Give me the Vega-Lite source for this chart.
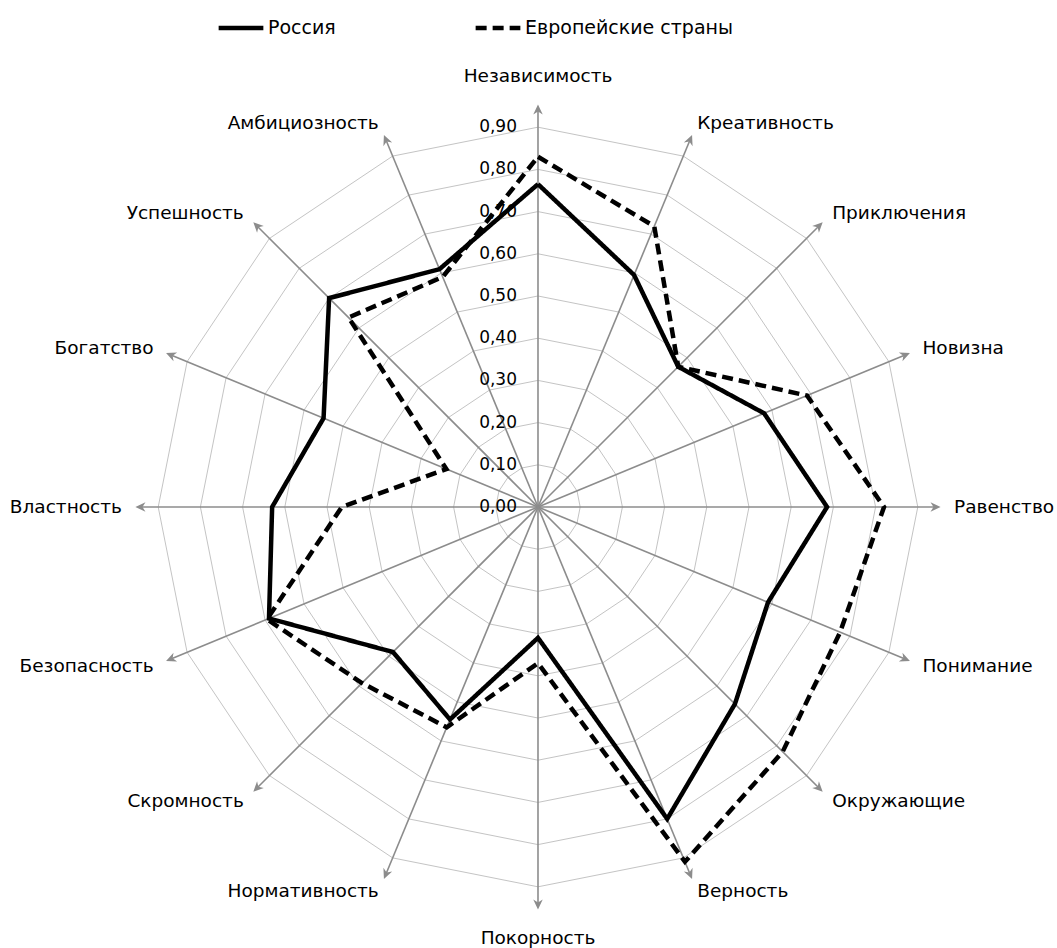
{
  "$schema": "https://vega.github.io/schema/vega-lite/v6.json",
  "width": 1057,
  "height": 948,
  "autosize": {"type": "none"},
  "padding": 0,
  "background": "white",
  "config": {"view": {"stroke": null}, "font": "DejaVu Sans"},
  "datasets": {
    "scores": [
      {"k": 0, "cat": "Независимость", "series": "Россия", "v": 0.765},
      {"k": 1, "cat": "Креативность", "series": "Россия", "v": 0.595},
      {"k": 2, "cat": "Приключения", "series": "Россия", "v": 0.47},
      {"k": 3, "cat": "Новизна", "series": "Россия", "v": 0.58},
      {"k": 4, "cat": "Равенство", "series": "Россия", "v": 0.685},
      {"k": 5, "cat": "Понимание", "series": "Россия", "v": 0.59},
      {"k": 6, "cat": "Окружающие", "series": "Россия", "v": 0.66},
      {"k": 7, "cat": "Верность", "series": "Россия", "v": 0.8},
      {"k": 8, "cat": "Покорность", "series": "Россия", "v": 0.31},
      {"k": 9, "cat": "Нормативность", "series": "Россия", "v": 0.545},
      {"k": 10, "cat": "Скромность", "series": "Россия", "v": 0.486},
      {"k": 11, "cat": "Безопасность", "series": "Россия", "v": 0.69},
      {"k": 12, "cat": "Властность", "series": "Россия", "v": 0.63},
      {"k": 13, "cat": "Богатство", "series": "Россия", "v": 0.55},
      {"k": 14, "cat": "Успешность", "series": "Россия", "v": 0.7},
      {"k": 15, "cat": "Амбициозность", "series": "Россия", "v": 0.61},
      {"k": 16, "cat": "Независимость", "series": "Россия", "v": 0.765},
      {"k": 0, "cat": "Независимость", "series": "Европейские страны", "v": 0.83},
      {"k": 1, "cat": "Креативность", "series": "Европейские страны", "v": 0.72},
      {"k": 2, "cat": "Приключения", "series": "Европейские страны", "v": 0.47},
      {"k": 3, "cat": "Новизна", "series": "Европейские страны", "v": 0.69},
      {"k": 4, "cat": "Равенство", "series": "Европейские страны", "v": 0.82},
      {"k": 5, "cat": "Понимание", "series": "Европейские страны", "v": 0.775},
      {"k": 6, "cat": "Окружающие", "series": "Европейские страны", "v": 0.82},
      {"k": 7, "cat": "Верность", "series": "Европейские страны", "v": 0.91},
      {"k": 8, "cat": "Покорность", "series": "Европейские страны", "v": 0.37},
      {"k": 9, "cat": "Нормативность", "series": "Европейские страны", "v": 0.565},
      {"k": 10, "cat": "Скромность", "series": "Европейские страны", "v": 0.59},
      {"k": 11, "cat": "Безопасность", "series": "Европейские страны", "v": 0.695},
      {"k": 12, "cat": "Властность", "series": "Европейские страны", "v": 0.465},
      {"k": 13, "cat": "Богатство", "series": "Европейские страны", "v": 0.235},
      {"k": 14, "cat": "Успешность", "series": "Европейские страны", "v": 0.635},
      {"k": 15, "cat": "Амбициозность", "series": "Европейские страны", "v": 0.59},
      {"k": 16, "cat": "Независимость", "series": "Европейские страны", "v": 0.83}
    ],
    "cats": [
      {"k": 0, "name": "Независимость"},
      {"k": 1, "name": "Креативность"},
      {"k": 2, "name": "Приключения"},
      {"k": 3, "name": "Новизна"},
      {"k": 4, "name": "Равенство"},
      {"k": 5, "name": "Понимание"},
      {"k": 6, "name": "Окружающие"},
      {"k": 7, "name": "Верность"},
      {"k": 8, "name": "Покорность"},
      {"k": 9, "name": "Нормативность"},
      {"k": 10, "name": "Скромность"},
      {"k": 11, "name": "Безопасность"},
      {"k": 12, "name": "Властность"},
      {"k": 13, "name": "Богатство"},
      {"k": 14, "name": "Успешность"},
      {"k": 15, "name": "Амбициозность"}
    ],
    "grid": [
      {"r": 0.1, "k": [0,1,2,3,4,5,6,7,8,9,10,11,12,13,14,15,16]},
      {"r": 0.2, "k": [0,1,2,3,4,5,6,7,8,9,10,11,12,13,14,15,16]},
      {"r": 0.3, "k": [0,1,2,3,4,5,6,7,8,9,10,11,12,13,14,15,16]},
      {"r": 0.4, "k": [0,1,2,3,4,5,6,7,8,9,10,11,12,13,14,15,16]},
      {"r": 0.5, "k": [0,1,2,3,4,5,6,7,8,9,10,11,12,13,14,15,16]},
      {"r": 0.6, "k": [0,1,2,3,4,5,6,7,8,9,10,11,12,13,14,15,16]},
      {"r": 0.7, "k": [0,1,2,3,4,5,6,7,8,9,10,11,12,13,14,15,16]},
      {"r": 0.8, "k": [0,1,2,3,4,5,6,7,8,9,10,11,12,13,14,15,16]},
      {"r": 0.9, "k": [0,1,2,3,4,5,6,7,8,9,10,11,12,13,14,15,16]}
    ],
    "ticks": [
      {"v": 0}, {"v": 0.1}, {"v": 0.2}, {"v": 0.3}, {"v": 0.4},
      {"v": 0.5}, {"v": 0.6}, {"v": 0.7}, {"v": 0.8}, {"v": 0.9}
    ]
  },
  "encoding": {
    "x": {"field": "x", "type": "quantitative", "scale": {"domain": [-1.2749, 1.2299], "nice": false, "zero": false}, "axis": null},
    "y": {"field": "y", "type": "quantitative", "scale": {"domain": [-1.045, 1.2014], "nice": false, "zero": false}, "axis": null}
  },
  "layer": [
    {
      "data": {"name": "grid"},
      "transform": [
        {"flatten": ["k"]},
        {"calculate": "datum.k*PI/8", "as": "a"},
        {"calculate": "datum.r*sin(datum.a)", "as": "x"},
        {"calculate": "datum.r*cos(datum.a)", "as": "y"}
      ],
      "mark": {"type": "line", "color": "#c4c4c4", "strokeWidth": 1},
      "encoding": {"detail": {"field": "r"}, "order": {"field": "k", "type": "quantitative"}}
    },
    {
      "data": {"name": "cats"},
      "transform": [
        {"calculate": "datum.k*PI/8", "as": "a"},
        {"calculate": "0", "as": "x"},
        {"calculate": "0", "as": "y"},
        {"calculate": "0.94*sin(datum.a)", "as": "x2"},
        {"calculate": "0.94*cos(datum.a)", "as": "y2"}
      ],
      "mark": {"type": "rule", "color": "#8c8c8c", "strokeWidth": 1.6},
      "encoding": {"x2": {"field": "x2"}, "y2": {"field": "y2"}}
    },
    {
      "data": {"name": "cats"},
      "transform": [
        {"calculate": "datum.k*PI/8", "as": "a"},
        {"calculate": "datum.k*22.5", "as": "deg"},
        {"calculate": "0.94*sin(datum.a)", "as": "x"},
        {"calculate": "0.94*cos(datum.a)", "as": "y"}
      ],
      "mark": {"type": "point", "shape": "M0,-1L0.8,0.7L0,0.2L-0.8,0.7Z", "filled": true, "color": "#8c8c8c", "opacity": 1, "size": 140},
      "encoding": {"angle": {"field": "deg", "type": "quantitative", "scale": null}}
    },
    {
      "data": {"name": "ticks"},
      "transform": [
        {"calculate": "0", "as": "x"},
        {"calculate": "datum.v", "as": "y"},
        {"calculate": "replace(format(datum.v, '.2f'), '.', ',')", "as": "lab"}
      ],
      "mark": {"type": "text", "align": "right", "baseline": "middle", "dx": -21, "fontSize": 17, "color": "black"},
      "encoding": {"text": {"field": "lab"}}
    },
    {
      "data": {"name": "cats"},
      "transform": [
        {"filter": "datum.k > 0 && datum.k < 8"},
        {"calculate": "datum.k*PI/8", "as": "a"},
        {"calculate": "0.986*sin(datum.a)", "as": "x"},
        {"calculate": "0.986*cos(datum.a)", "as": "y"}
      ],
      "mark": {"type": "text", "align": "left", "baseline": "middle", "fontSize": 18.5, "color": "black"},
      "encoding": {"text": {"field": "name"}}
    },
    {
      "data": {"name": "cats"},
      "transform": [
        {"filter": "datum.k > 8"},
        {"calculate": "datum.k*PI/8", "as": "a"},
        {"calculate": "0.986*sin(datum.a)", "as": "x"},
        {"calculate": "0.986*cos(datum.a)", "as": "y"}
      ],
      "mark": {"type": "text", "align": "right", "baseline": "middle", "fontSize": 18.5, "color": "black"},
      "encoding": {"text": {"field": "name"}}
    },
    {
      "data": {"name": "cats"},
      "transform": [
        {"filter": "datum.k == 0 || datum.k == 8"},
        {"calculate": "datum.k*PI/8", "as": "a"},
        {"calculate": "0", "as": "x"},
        {"calculate": "1.022*cos(datum.a)", "as": "y"}
      ],
      "mark": {"type": "text", "align": "center", "baseline": "middle", "fontSize": 18.5, "color": "black"},
      "encoding": {"text": {"field": "name"}}
    },
    {
      "data": {"name": "scores"},
      "transform": [
        {"calculate": "datum.k*PI/8", "as": "a"},
        {"calculate": "datum.v*sin(datum.a)", "as": "x"},
        {"calculate": "datum.v*cos(datum.a)", "as": "y"}
      ],
      "mark": {"type": "line", "color": "black", "strokeWidth": 4.5, "strokeCap": "butt", "strokeJoin": "miter"},
      "encoding": {
        "order": {"field": "k", "type": "quantitative"},
        "strokeDash": {
          "field": "series",
          "type": "nominal",
          "scale": {"domain": ["Россия", "Европейские страны"], "range": [[1, 0], [11, 6]]},
          "legend": {
            "title": null,
            "orient": "none",
            "legendX": 216,
            "legendY": 3,
            "direction": "horizontal",
            "symbolType": "stroke",
            "symbolSize": 2000,
            "symbolStrokeWidth": 4.5,
            "symbolStrokeColor": "black",
            "labelFontSize": 19,
            "labelFont": "DejaVu Sans",
            "labelColor": "black",
            "labelOffset": 2,
            "labelLimit": 0,
            "columnPadding": 130
          }
        }
      }
    }
  ]
}
